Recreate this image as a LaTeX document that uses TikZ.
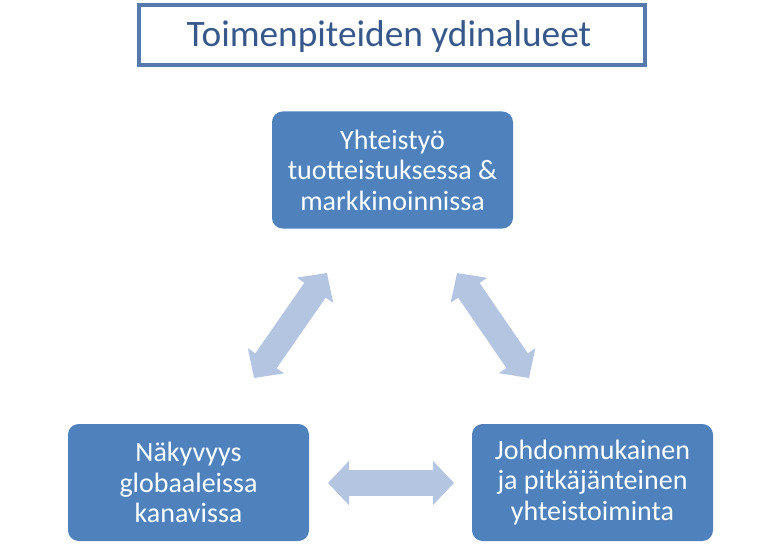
\documentclass[tikz,border=0pt]{standalone}
\usepackage{fontspec}
\setmainfont{Carlito}
\usetikzlibrary{arrows.meta}
\definecolor{laatikko}{RGB}{79,129,189}
\definecolor{reuna}{RGB}{86,122,172}
\definecolor{otsikko}{RGB}{54,88,138}
\definecolor{nuoli}{RGB}{180,197,226}
\tikzset{
  alue/.style={draw=none,fill=laatikko,rounded corners=8,minimum width=241*0.75pt,minimum height=117*0.75pt,
    text=white,align=center,font=\fontsize{21}{22.8}\selectfont,inner sep=0pt},
  nuolet/.style={draw=nuoli,line width=26*0.75pt,
    {Triangle[length=21*0.75pt,width=43*0.75pt]}-{Triangle[length=21*0.75pt,width=43*0.75pt]}}
}
\begin{document}
\begin{tikzpicture}[x=0.75pt,y=-0.75pt]
\useasboundingbox (0,0) rectangle (780,549);
% otsikko
\draw[reuna,line width=3pt,fill=white] (139,5) rectangle (645,65);
\node[text=otsikko,font=\fontsize{28}{34}\selectfont] (otsikko) at (389,37) {Toimenpiteiden ydinalueet};
% laatikot
\node[alue] (yhteistyo) at (392.5,170) {Yhteisty\"o\\tuotteistuksessa \&\\markkinoinnissa};
\node[alue] (nakyvyys) at (188.5,482.5) {N\"akyvyys\\globaaleissa\\kanavissa};
\node[alue] (johdon) at (592.5,482.5) {Johdonmukainen\\ja pitk\"aj\"anteinen\\yhteistoiminta};
% nuolet
\coordinate (v1) at (327,273);
\coordinate (v2) at (254,378);
\coordinate (o1) at (457,273);
\coordinate (o2) at (529,378);
\coordinate (a1) at (328,483);
\coordinate (a2) at (454,483);
\draw[nuolet] (v1) -- (v2);
\draw[nuolet] (o1) -- (o2);
\draw[nuolet] (a1) -- (a2);
\end{tikzpicture}
\end{document}
